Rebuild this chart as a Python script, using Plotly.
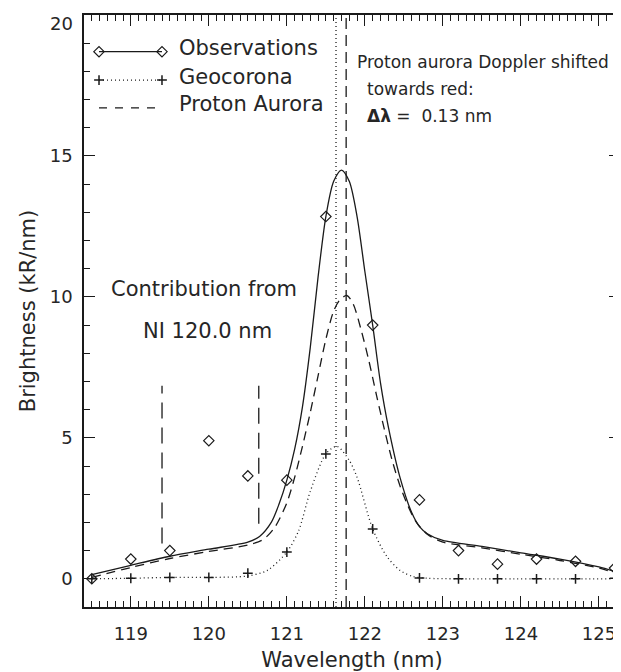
import plotly.graph_objects as go

# ---------------- data ----------------
obs_x = [118.5, 119.0, 119.5, 120.0, 120.5, 121.0, 121.5, 122.1, 122.7, 123.2, 123.7, 124.2, 124.7, 125.2]
obs_y = [0.0, 0.7, 1.0, 4.9, 3.65, 3.5, 12.85, 9.0, 2.8, 1.0, 0.52, 0.7, 0.62, 0.38]
geo_pts_y = [0.0, 0.02, 0.05, 0.05, 0.2, 0.95, 4.43, 1.77, 0.03, 0.0, 0.0, 0.0, 0.0, 0.02]

fit_x = [118.5, 119.0, 119.5, 120.0, 120.5, 120.65, 120.8, 120.9, 121.0, 121.1, 121.2, 121.3,
         121.4, 121.5, 121.6, 121.7, 121.8, 121.9, 122.0, 122.1, 122.2, 122.3, 122.45, 122.6,
         122.7, 122.8, 123.0, 123.5, 124.0, 124.5, 125.0, 125.2]
fit_y = [0.15, 0.48, 0.8, 1.05, 1.3, 1.5, 2.0, 2.65, 3.5, 4.6, 6.1, 8.2,
         10.7, 12.85, 14.1, 14.5, 14.1, 12.85, 10.9, 9.0, 6.95, 5.4, 3.6, 2.35,
         1.85, 1.6, 1.36, 1.15, 0.92, 0.7, 0.42, 0.26]

pa_x = [118.5, 119.0, 119.5, 120.0, 120.5, 120.7, 120.85, 121.0, 121.1, 121.2, 121.3, 121.4,
        121.5, 121.6, 121.68, 121.77, 121.85, 121.95, 122.05, 122.15, 122.25, 122.35, 122.45,
        122.55, 122.65, 122.8, 123.0, 123.5, 124.0, 124.5, 125.0, 125.2]
pa_y = [0.05, 0.4, 0.72, 0.97, 1.2, 1.4, 1.85, 2.7, 3.6, 4.7, 5.9, 7.2,
        8.5, 9.5, 9.9, 10.05, 9.75, 8.85, 7.75, 6.5, 5.3, 4.2, 3.3,
        2.6, 2.05, 1.58, 1.3, 1.1, 0.87, 0.65, 0.38, 0.22]

geo_x = [118.5, 119.0, 119.5, 120.0, 120.5, 120.75, 121.0, 121.15, 121.3, 121.5, 121.64,
         121.8, 121.9, 122.1, 122.28, 122.45, 122.62, 122.8, 123.2, 125.2]
geo_y = [0.0, 0.02, 0.05, 0.05, 0.1, 0.3, 0.95, 1.7, 3.1, 4.43, 4.7,
         4.2, 3.6, 1.77, 0.8, 0.3, 0.08, 0.02, 0.0, 0.0]

geo_center = 121.63      # geocorona line centre (nm)
aurora_center = 121.76   # Doppler shifted proton aurora centre (nm)
ni_x = [119.4, 120.64]
ni_y0 = [1.25, 1.95]
ni_y1 = [6.85, 6.85]

x_ticks = [119, 120, 121, 122, 123, 124, 125]
y_ticks = [0, 5, 10, 15, 20]
legend_labels = ["Observations", "Geocorona", "Proton Aurora"]

# ---------------- styling ----------------
FONT = "DejaVu Sans"
INK = "#1a1a1a"
TXT = "#262626"
XR = [118.4, 125.27]
YR = [-1.0, 20.0]


def fx(f):
    """axis fraction -> x value"""
    return XR[0] + f * (XR[1] - XR[0])


def fy(f):
    """axis fraction -> y value"""
    return YR[0] + f * (YR[1] - YR[0])


fig = go.Figure()

# fitted curves
fig.add_trace(go.Scatter(x=fit_x, y=fit_y, mode="lines",
                         line=dict(color=INK, width=1.3, shape="spline", smoothing=0.8),
                         showlegend=False))
fig.add_trace(go.Scatter(x=pa_x, y=pa_y, mode="lines",
                         line=dict(color=INK, width=1.3, dash="9px,6px", shape="spline", smoothing=0.8),
                         showlegend=False))
fig.add_trace(go.Scatter(x=geo_x, y=geo_y, mode="lines",
                         line=dict(color=INK, width=1.3, dash="1px,3px", shape="spline", smoothing=0.8),
                         showlegend=False))
# points
fig.add_trace(go.Scatter(x=obs_x, y=obs_y, mode="markers",
                         marker=dict(symbol="diamond-open", size=8, color=INK, line=dict(width=1.2, color=INK)),
                         showlegend=False))
fig.add_trace(go.Scatter(x=obs_x, y=geo_pts_y, mode="markers",
                         marker=dict(symbol="cross-thin-open", size=7, color=INK, line=dict(width=1.5, color=INK)),
                         showlegend=False))
# vertical centre lines
fig.add_trace(go.Scatter(x=[geo_center, geo_center], y=YR, mode="lines",
                         line=dict(color=INK, width=1.3, dash="1px,3px"), showlegend=False))
fig.add_trace(go.Scatter(x=[aurora_center, aurora_center], y=YR, mode="lines",
                         line=dict(color=INK, width=1.3, dash="11px,6px"), showlegend=False))
# NI 120.0 nm markers
for xv, y0, y1 in zip(ni_x, ni_y0, ni_y1):
    fig.add_trace(go.Scatter(x=[xv, xv], y=[y0, y1], mode="lines",
                             line=dict(color=INK, width=1.3, dash="16px,9px"), showlegend=False))

# ---------------- manual legend (axis-fraction layout) ----------------
LEG_F = [0.028, 0.1455]
LEG_DASH_END = 0.134
LEG_ROWS = [0.938, 0.890, 0.843]
LEG_TEXT_F = 0.1735
fig.add_trace(go.Scatter(x=[fx(f) for f in LEG_F], y=[fy(LEG_ROWS[0])] * 2, mode="lines+markers",
                         line=dict(color=INK, width=1.3),
                         marker=dict(symbol="diamond-open", size=8, color=INK, line=dict(width=1.2, color=INK)),
                         showlegend=False, hoverinfo="skip"))
fig.add_trace(go.Scatter(x=[fx(f) for f in LEG_F], y=[fy(LEG_ROWS[1])] * 2, mode="lines+markers",
                         line=dict(color=INK, width=1.3, dash="1px,3px"),
                         marker=dict(symbol="cross-thin-open", size=7, color=INK, line=dict(width=1.5, color=INK)),
                         showlegend=False, hoverinfo="skip"))
fig.add_trace(go.Scatter(x=[fx(LEG_F[0]), fx(LEG_DASH_END)], y=[fy(LEG_ROWS[2])] * 2, mode="lines",
                         line=dict(color=INK, width=1.3, dash="8px,8px"), showlegend=False, hoverinfo="skip"))
for label, yy in zip(legend_labels, LEG_ROWS):
    fig.add_annotation(x=LEG_TEXT_F, y=yy + 0.006, xref="x domain", yref="y domain", text=label,
                       showarrow=False, xanchor="left", yanchor="middle",
                       font=dict(family=FONT, size=21, color=TXT))

# ---------------- text annotations ----------------
fig.add_annotation(x=119.94, y=10.27, text="Contribution from", showarrow=False,
                   xanchor="center", yanchor="middle", font=dict(family=FONT, size=21, color=TXT))
fig.add_annotation(x=119.98, y=8.78, text="NI 120.0 nm", showarrow=False,
                   xanchor="center", yanchor="middle", font=dict(family=FONT, size=21, color=TXT))
fig.add_annotation(x=121.87, y=18.33, text="Proton aurora Doppler shifted", showarrow=False,
                   xanchor="left", yanchor="middle", font=dict(family=FONT, size=17, color=TXT))
fig.add_annotation(x=122.0, y=17.37, text="towards red:", showarrow=False,
                   xanchor="left", yanchor="middle", font=dict(family=FONT, size=17, color=TXT))
fig.add_annotation(x=122.0, y=16.41, text="<b>\u0394\u03bb</b> =  0.13 nm", showarrow=False,
                   xanchor="left", yanchor="middle", font=dict(family=FONT, size=17, color=TXT))
# top y tick label, nudged inside the page as in the original
fig.add_annotation(x=-0.0168, y=0.9856, xref="x domain", yref="y domain", text=str(y_ticks[-1]),
                   showarrow=False, xanchor="right", yanchor="middle",
                   font=dict(family=FONT, size=18, color=TXT))

axis_common = dict(showgrid=False, zeroline=False, showline=True, linecolor=INK, linewidth=1.5,
                   mirror="ticks", ticks="inside", tickcolor=INK, tickwidth=1, ticklen=11,
                   automargin=False, tickfont=dict(family=FONT, size=18, color=TXT))

# the page body adds an 8 px offset, so the figure is 8 px smaller than the window
fig.update_layout(
    width=613, height=664,
    margin=dict(l=76, r=1, t=7, b=65),
    paper_bgcolor="white", plot_bgcolor="white",
    xaxis=dict(range=XR, tickmode="array", tickvals=x_ticks, ticktext=[str(v) for v in x_ticks],
               minor=dict(dtick=0.1, tick0=119, ticks="inside", ticklen=6, tickcolor=INK, tickwidth=1),
               title=dict(text="Wavelength (nm)", font=dict(family=FONT, size=21, color=TXT), standoff=9),
               ticklabelstandoff=10, **axis_common),
    yaxis=dict(range=YR, tickmode="array", tickvals=y_ticks,
               ticktext=[str(v) for v in y_ticks[:-1]] + [""],
               minor=dict(dtick=1, tick0=0, ticks="inside", ticklen=6, tickcolor=INK, tickwidth=1),
               title=dict(text="Brightness (kR/nm)", font=dict(family=FONT, size=21, color=TXT), standoff=8),
               ticklabelstandoff=6, **axis_common),
)

fig.write_html("out.html")
